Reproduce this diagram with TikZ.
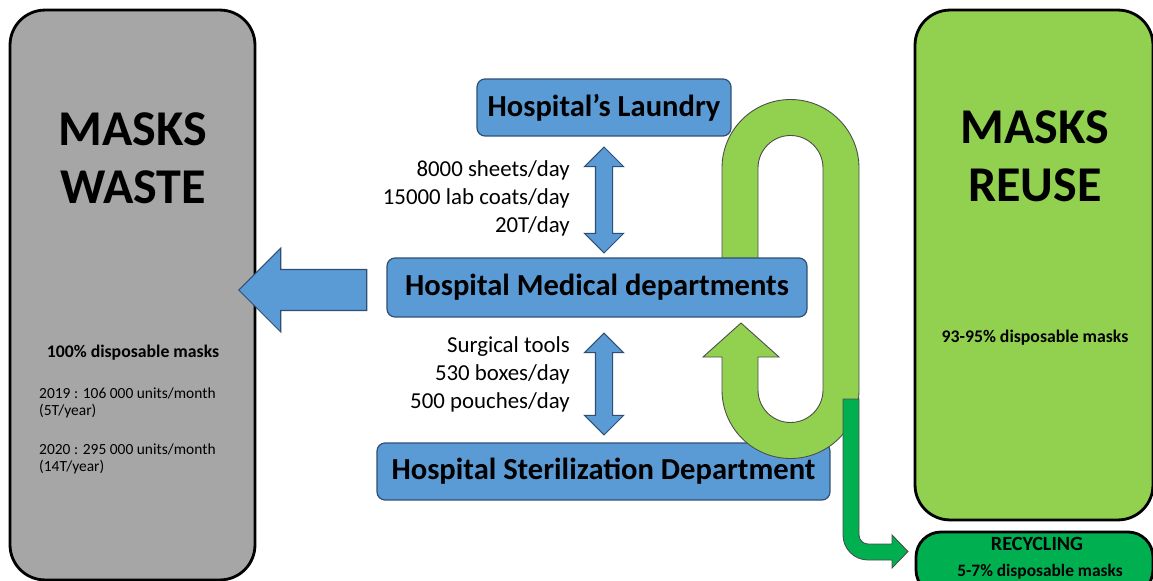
\documentclass[tikz,border=0pt]{standalone}
\usepackage{fontspec}
\setmainfont{Carlito}
\usepackage{tikz}
\usetikzlibrary{shapes.arrows, calc}
\definecolor{cgray}{HTML}{A6A6A6}
\definecolor{cgreen}{HTML}{92D050}
\definecolor{cdarkgreen}{HTML}{00B050}
\definecolor{cblue}{HTML}{5B9BD5}
\definecolor{cblueline}{HTML}{2E4F73}
\tikzset{
BigBox/.style={
	draw=black,
	line width=1.6pt,
	rounded corners=0.7cm,
	inner sep=0pt
},
WasteBox/.style={
	BigBox,
	fill=cgray
},
ReuseBox/.style={
	BigBox,
	fill=cgreen
},
RecycleBox/.style={
	BigBox,
	fill=cdarkgreen,
	rounded corners=0.5cm
},
DeptBox/.style={
	draw=cblueline, fill=cblue,
	line width=0.7pt,
	rounded corners=0.16cm,
	inner sep=0pt,
	font=\fontsize{17.4}{20}\selectfont\bfseries
},
Title/.style={
	align=center,
	font=\fontsize{28.5}{33}\selectfont\bfseries
},
Flow/.style={
	align=right, anchor=east,
	font=\fontsize{13}{15.9}\selectfont
},
Note/.style={
	align=left, anchor=west,
	font=\fontsize{8.8}{9.6}\selectfont
},
Share/.style={
	font=\fontsize{10.1}{12}\selectfont\bfseries
},
BlockArrow/.style={
	draw=cblueline, fill=cblue,
	line width=0.6pt,
	inner xsep=0pt
},
DblArrow/.style={
	BlockArrow,
	double arrow,
	rotate=90,
	inner ysep=0.16cm,
	double arrow head extend=0.22cm
},
LoopPath/.style={
	draw=black!70, fill=cgreen,
	line width=0.5pt
},
RecyclePath/.style={
	draw=black!70, fill=cdarkgreen,
	line width=0.5pt
}
}

\begin{document}
\begin{tikzpicture}[x=0.02cm, y=-0.02cm]
	\useasboundingbox (0,0) rectangle (1153,581);
	\clip (0,0) rectangle (1153,581);

	% side boxes
	\node[WasteBox, minimum width=4.9cm, minimum height=11.4cm] (waste) at (132.5,295) {};
	\node[ReuseBox, minimum width=4.76cm, minimum height=10.2cm] (reuse) at (1034,265) {};
	\node[RecycleBox, minimum width=4.74cm, minimum height=1.26cm] (recycle) at (1034.5,563.5) {};

	\node[Title] (wastetitle) at (133,158) {MASKS\\WASTE};
	\node[Title] (reusetitle) at (1035,156) {MASKS\\REUSE};

	\node[Share] (wasteshare) at (133,353) {100\% disposable masks};
	\node[Note] (y2019) at (33,402.5) {2019 : 106 000 units/month\\(5T/year)};
	\node[Note] (y2020) at (33,458.5) {2020 : 295 000 units/month\\(14T/year)};
	\node[Share] (reuseshare) at (1035,338) {93-95\% disposable masks};
	\node[Share, font=\fontsize{11.5}{13}\selectfont\bfseries] (recycletitle) at (1037,544) {RECYCLING};
	\node[Share, font=\fontsize{9.9}{12}\selectfont\bfseries] (recycleshare) at (1040,572) {5-7\% disposable masks};

	% hospital
	\node[BlockArrow, single arrow, shape border rotate=180, inner ysep=0.4cm,
		single arrow head extend=0.43cm, minimum height=2.56cm] (toWaste) at (313,290) {};

	\node[DeptBox, minimum width=5.08cm, minimum height=1.14cm] (laundry) at (604,107.5) {Hospital’s Laundry};
	\node[DeptBox, minimum width=9.06cm, minimum height=1.14cm] (steril) at (603.5,471.5) {Hospital Sterilization Department};

	\draw[LoopPath] (722,270) -- (722,168) arc[start angle=180, end angle=360, radius=68.5]
		-- (859,390) arc[start angle=0, end angle=180, radius=68.5]
		-- (722,357) -- (703,357) -- (741,323) -- (779,357) -- (758,357)
		-- (758,390) arc[start angle=180, end angle=0, radius=32.5]
		-- (823,168) arc[start angle=360, end angle=180, radius=32.5]
		-- (758,270) -- cycle;

	\node[DeptBox, minimum width=8.4cm, minimum height=1.18cm] (medical) at (597,287.5) {Hospital Medical departments};

	\draw[RecyclePath] (843,399) -- (843,535) arc[start angle=180, end angle=90, radius=25]
		-- (892,560) -- (892,568) -- (908,551.5) -- (892,535) -- (892,544)
		-- (868,544) arc[start angle=90, end angle=180, radius=9]
		-- (859,399) -- cycle;

	\node[DblArrow, minimum height=2.12cm] (laundryflow) at (604,200) {};
	\node[DblArrow, minimum height=2.04cm] (sterilflow) at (604,384) {};

	\node[Flow] (laundrytext) at (576,198) {8000 sheets/day\\15000 lab coats/day\\20T/day};
	\node[Flow] (steriltext) at (576,374) {Surgical tools\\530 boxes/day\\500 pouches/day};
\end{tikzpicture}
\end{document}
